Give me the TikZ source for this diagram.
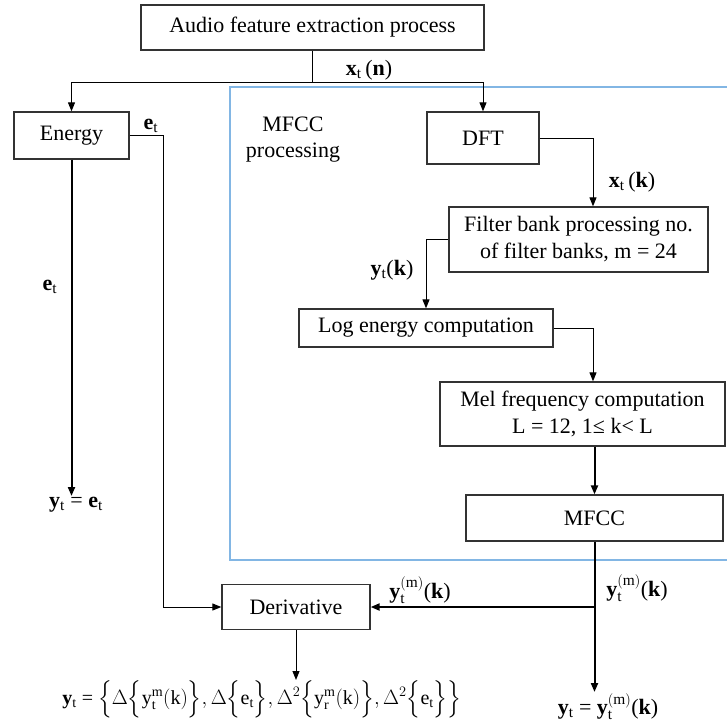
\documentclass[tikz,border=0pt]{standalone}
\usepackage{amsmath}
\usepackage{fontspec}
\setmainfont{Liberation Serif}
\usetikzlibrary{positioning}
\usetikzlibrary{arrows.meta}
\definecolor{mfccBlue}{RGB}{130,182,228}
\tikzset{
    objBox/.style={rectangle, draw=black!80, line width=1.3pt, inner sep=0pt, align=center, font=\fontsize{22}{27}\selectfont},
    objLabel/.style={inner sep=1pt, font=\fontsize{22}{26}\selectfont},
    arrow/.style={line width=1pt, -{Triangle[length=9pt,width=7pt]}},
    thickArrow/.style={arrow, line width=2pt}
}

\begin{document}
\begin{tikzpicture}[x=1pt, y=-1pt]
  \clip (0,0) rectangle (727,723);
  \draw[mfccBlue, line width=1.5pt] (230,87) rectangle (790,560);

  \node (audio) [objBox, minimum width=343, minimum height=45] at (312.5,27.5) {Audio feature extraction process};
  \node (energy) [objBox, minimum width=115, minimum height=47] at (71.5,135.5) {Energy};
  \node (dft) [objBox, minimum width=112, minimum height=52] at (483,138) {DFT};
  \node (filter) [objBox, minimum width=259, minimum height=65] at (578.5,239.5) {Filter bank processing no.\\of filter banks, m = 24};
  \node (logE) [objBox, minimum width=254, minimum height=38] at (426,328) {Log energy computation};
  \node (mel) [objBox, minimum width=285, minimum height=64] at (582.5,414) {Mel frequency computation\\L = 12, 1≤ k< L};
  \node (mfcc) [objBox, minimum width=257, minimum height=46] at (594.5,518) {MFCC};
  \node (deriv) [objBox, minimum width=148, minimum height=45] at (296,607) {Derivative};

  \node (mfccTitle) [objLabel, align=center] at (293,140) {MFCC\\processing};
  \node (xn) [objLabel] at (369,70) {\textbf{x}\textsubscript{t}\,(\textbf{n})};
  \node (eOut) [objLabel] at (151,126) {\textbf{e}\textsubscript{t}};
  \node (eLine) [objLabel] at (50,287) {\textbf{e}\textsubscript{t}};
  \node (xk) [objLabel] at (632,182) {\textbf{x}\textsubscript{t}\,(\textbf{k})};
  \node (yk) [objLabel] at (392,270) {\textbf{y}\textsubscript{t}(\textbf{k})};
  \node (ymL) [objLabel] at (420,590) {$\mathbf{y}^{(\mathrm{m})}_{\mathrm{t}}$(\textbf{k})};
  \node (ymR) [objLabel] at (637,588) {$\mathbf{y}^{(\mathrm{m})}_{\mathrm{t}}$(\textbf{k})};
  \node (yE) [objLabel, anchor=north] at (76,496) {\textbf{y}\textsubscript{t} = \textbf{e}\textsubscript{t}};
  \node (yM) [objLabel, anchor=north] at (608,692) {\textbf{y}\textsubscript{t} = $\mathbf{y}^{(\mathrm{m})}_{\mathrm{t}}$(\textbf{k})};
  \node (yD) [objLabel, anchor=north, inner sep=0pt, font=\fontsize{20}{24}\selectfont] at (262,680) {\textbf{y}\textsubscript{t} = $\Big\{\Delta\Big\{\mathrm{y}^{\mathrm{m}}_{\mathrm{t}}(\mathrm{k})\Big\},\Delta\Big\{\mathrm{e}_{\mathrm{t}}\Big\},\Delta^{2}\Big\{\mathrm{y}^{\mathrm{m}}_{\mathrm{r}}(\mathrm{k})\Big\},\Delta^{2}\Big\{\mathrm{e}_{\mathrm{t}}\Big\}\Big\}$};

  \coordinate (split) at (312.5,82);

  \draw[line width=1pt] (audio.south) -- (split);
  \draw[arrow] (split) -| (energy.north);
  \draw[arrow] (split) -| (dft.north);

  \draw[thickArrow] (energy.south) -- (energy.south |- yE.north);
  \draw[arrow] (energy.east) -- ++(34,0) |- (deriv.west);

  \draw[arrow] (dft.east) -| ([xshift=14.5]filter.north);
  \draw[arrow] (filter.west) -| (logE.north);
  \draw[arrow] (logE.east) -| ([xshift=10.5]mel.north);
  \draw[thickArrow] (mfcc.north |- mel.south) -- (mfcc.north);

  \draw[thickArrow] (mfcc.south) -- (mfcc.south |- yM.north);
  \draw[thickArrow] (mfcc.south |- deriv.east) -- (deriv.east);
  \draw[arrow] (deriv.south) -- (deriv.south |- yD.north);
\end{tikzpicture}
\end{document}
